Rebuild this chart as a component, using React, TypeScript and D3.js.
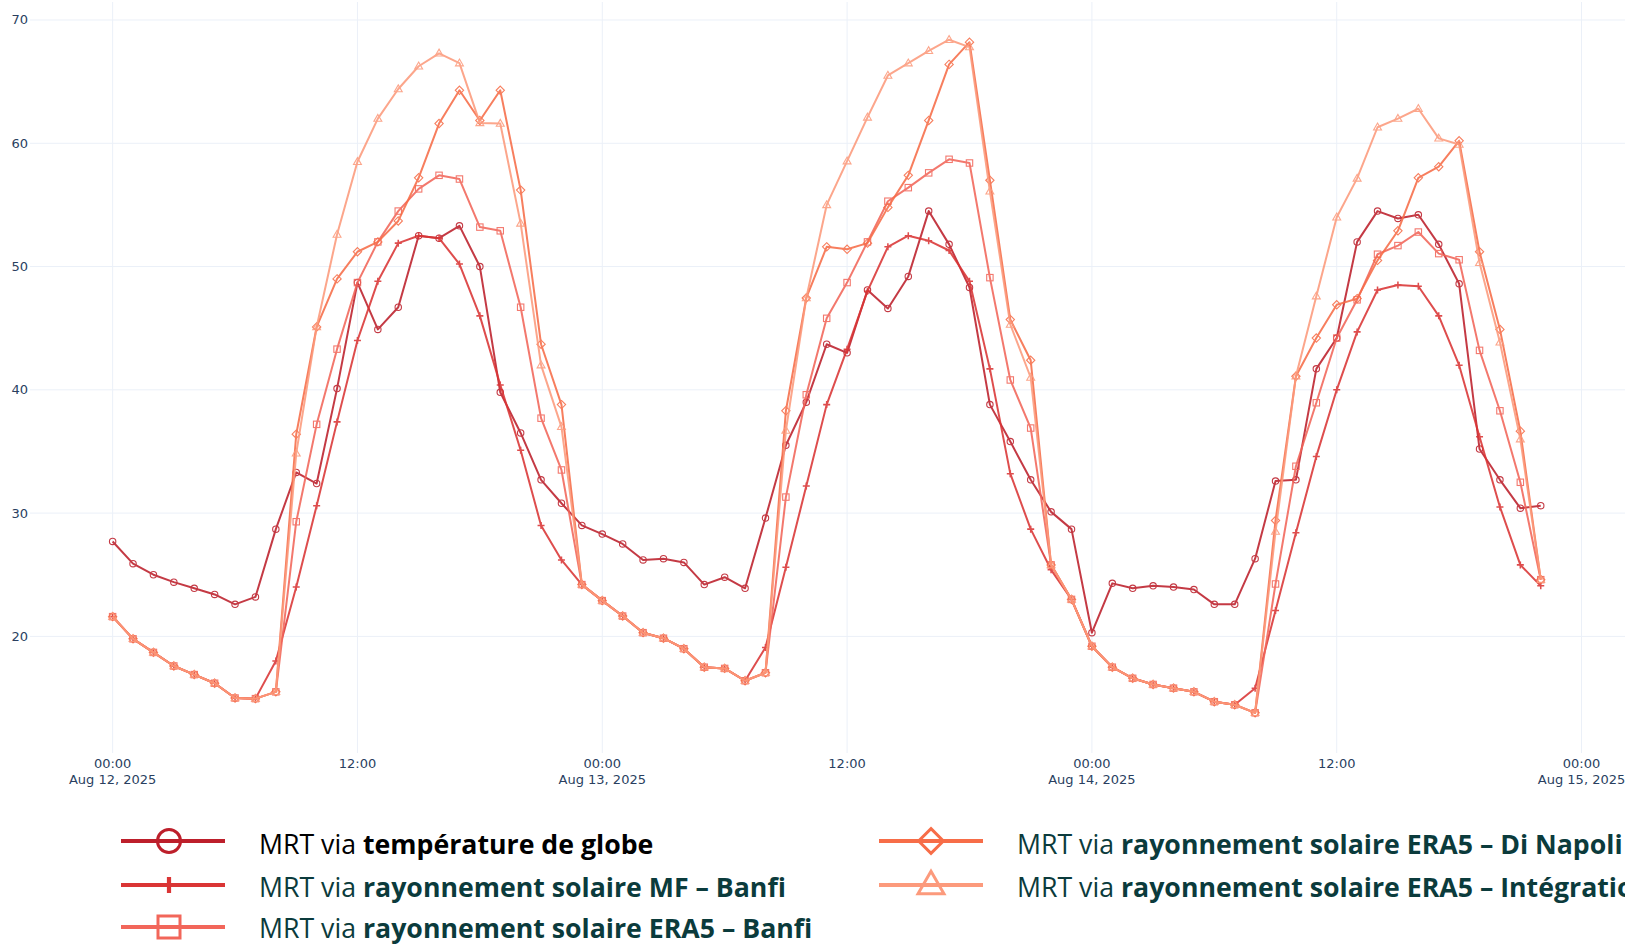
import React from "react";
import * as d3 from "d3";

// ---------- data (hourly, Aug 12 2025 00:00 → Aug 14 2025 22:00) ----------
const startUtc = Date.UTC(2025, 7, 12, 0);
const hourCount = 71;

const globeTemp = [
  27.7, 25.9, 25.0, 24.4, 23.9, 23.4, 22.6, 23.2, 28.7, 33.3, 32.4, 40.1,
  48.7, 44.9, 46.7, 52.5, 52.3, 53.3, 50.0, 39.8, 36.5, 32.7, 30.8, 29.0,
  28.3, 27.5, 26.2, 26.3, 26.0, 24.2, 24.8, 23.9, 29.6, 35.5, 39.0, 43.7,
  43.0, 48.1, 46.6, 49.2, 54.5, 51.8, 48.3, 38.8, 35.8, 32.7, 30.1, 28.7,
  20.3, 24.3, 23.9, 24.1, 24.0, 23.8, 22.6, 22.6, 26.3, 32.6, 32.7, 41.7,
  44.2, 52.0, 54.5, 53.9, 54.2, 51.8, 48.6, 35.2, 32.7, 30.4, 30.6,
];

const mfBanfi = [
  21.6, 19.8, 18.7, 17.6, 16.9, 16.2, 15.0, 14.95,
  18.0, 24.0, 30.6, 37.4, 44.0, 48.8, 51.9, 52.5, 52.3, 50.2, 46.0, 40.4, 35.1, 29.0, 26.2, 24.2,
  22.9, 21.65, 20.3, 19.85, 19.0, 17.5, 17.4, 16.4,
  19.1, 25.6, 32.2, 38.8, 43.3, 48.0, 51.6, 52.5, 52.1, 51.3, 48.8, 41.7, 33.2, 28.7, 25.4,
  23.0, 19.2, 17.5, 16.6, 16.1, 15.8, 15.5, 14.7, 14.45,
  15.8, 22.1, 28.4, 34.6, 40.0, 44.7, 48.1, 48.5, 48.4, 46.0, 42.0, 36.2, 30.5, 25.8, 24.1,
];

const era5Banfi = [
  21.6, 19.8, 18.7, 17.6, 16.9, 16.2, 15.0, 14.95,
  15.5, 29.3, 37.2, 43.3, 48.7, 52.0, 54.5, 56.3, 57.4, 57.1, 53.2, 52.9, 46.7, 37.7, 33.5, 24.2,
  22.9, 21.65, 20.3, 19.85, 19.0, 17.5, 17.4, 16.4,
  17.05, 31.3, 39.6, 45.8, 48.7, 52.0, 55.3, 56.4, 57.6, 58.7, 58.4, 49.1, 40.8, 36.9, 25.8,
  23.0, 19.2, 17.5, 16.6, 16.1, 15.8, 15.5, 14.7, 14.45,
  13.8, 24.25, 33.8, 38.95, 44.2, 47.3, 51.0, 51.7, 52.8, 51.05, 50.55, 43.2, 38.3, 32.5, 24.6,
];

const era5DiNapoli = [
  21.6, 19.8, 18.7, 17.6, 16.9, 16.2, 15.0, 14.95,
  15.5, 36.4, 45.1, 49.0, 51.2, 52.0, 53.7, 57.2, 61.6, 64.3, 61.85, 64.3, 56.2, 43.7, 38.8, 24.2,
  22.9, 21.65, 20.3, 19.85, 19.0, 17.5, 17.4, 16.4,
  17.05, 38.3, 47.45, 51.6, 51.4, 51.9, 54.8, 57.4, 61.85, 66.4, 68.2, 57.0, 45.7, 42.4, 25.8,
  23.0, 19.2, 17.5, 16.6, 16.1, 15.8, 15.5, 14.7, 14.45,
  13.8, 29.4, 41.1, 44.2, 46.9, 47.4, 50.5, 52.9, 57.2, 58.1, 60.2, 51.2, 44.9, 36.65, 24.6,
];

const era5Integration = [
  21.6, 19.8, 18.7, 17.6, 16.9, 16.2, 15.0, 14.95,
  15.5, 34.85, 45.1, 52.6, 58.5, 62.0, 64.4, 66.25, 67.3, 66.5, 61.65, 61.6, 53.5, 42.0, 37.0, 24.2,
  22.9, 21.65, 20.3, 19.85, 19.0, 17.5, 17.4, 16.4,
  17.05, 36.7, 47.45, 55.0, 58.55, 62.1, 65.5, 66.5, 67.5, 68.4, 67.8, 56.1, 45.3, 41.0, 25.8,
  23.0, 19.2, 17.5, 16.6, 16.1, 15.8, 15.5, 14.7, 14.45,
  13.8, 28.5, 41.1, 47.6, 54.0, 57.15, 61.3, 62.0, 62.8, 60.4, 59.9, 50.3, 43.85, 36.0, 24.6,
];

const seriesNames = [
  "température de globe",
  "rayonnement solaire MF – Banfi",
  "rayonnement solaire ERA5 – Banfi",
  "rayonnement solaire ERA5 – Di Napoli",
  "rayonnement solaire ERA5 – Intégration",
];
const seriesPrefix = "MRT via ";
const seriesValues = [globeTemp, mfBanfi, era5Banfi, era5DiNapoli, era5Integration];
const seriesSymbols = ["circle", "cross", "square", "diamond", "triangle"];
const seriesColors = ["#bd1f2b", "#da3535", "#f2665a", "#f76d48", "#fc9a7c"];
const legendTextColors = ["#000000", "#0b3b3c", "#0b3b3c", "#0b3b3c", "#0b3b3c"];

const yTickValues = [20, 30, 40, 50, 60, 70];
const xTickHours = [0, 12, 24, 36, 48, 60, 72];

// ---------- layout ----------
const W = 1625;
const H = 945;
const plot = { left: 30, right: 1625, top: 2, bottom: 753 };

const hourMs = 3600 * 1000;
const x = d3
  .scaleUtc()
  .domain([new Date(startUtc - 4.05 * hourMs), new Date(startUtc + 74.13 * hourMs)])
  .range([plot.left, plot.right]);
const y = d3.scaleLinear().domain([10.54, 71.46]).range([plot.bottom, plot.top]);

const fmtTime = d3.utcFormat("%H:%M");
const fmtDate = d3.utcFormat("%b %-d, %Y");

function Marker({ type, cx, cy, s, color, sw }: any) {
  if (type === "circle") {
    return <circle cx={cx} cy={cy} r={s} fill="none" stroke={color} strokeWidth={sw} />;
  }
  if (type === "square") {
    return <rect x={cx - s} y={cy - s} width={2 * s} height={2 * s} fill="none" stroke={color} strokeWidth={sw} />;
  }
  if (type === "diamond") {
    const d = s * 1.3;
    return <path d={`M${cx},${cy - d}L${cx + d},${cy}L${cx},${cy + d}L${cx - d},${cy}Z`} fill="none" stroke={color} strokeWidth={sw} />;
  }
  if (type === "triangle") {
    const r = s * 1.3;
    return (
      <path
        d={`M${cx},${cy - r}L${cx + r * 0.95},${cy + r * 0.65}L${cx - r * 0.95},${cy + r * 0.65}Z`}
        fill="none"
        stroke={color}
        strokeWidth={sw}
      />
    );
  }
  // cross (plus)
  return <path d={`M${cx - s},${cy}H${cx + s}M${cx},${cy - s}V${cy + s}`} fill="none" stroke={color} strokeWidth={sw * 1.4} />;
}

export default function App() {
  const hours = d3.range(hourCount);
  const line = d3
    .line<number>()
    .x((_, i) => x(new Date(startUtc + hours[i] * hourMs)))
    .y((v) => y(v));

  const legendPos = [
    { lx: 121, mx: 169, tx: 259, ly: 841, ty: 854 },
    { lx: 121, mx: 169, tx: 259, ly: 885, ty: 897 },
    { lx: 121, mx: 169, tx: 259, ly: 927, ty: 938 },
    { lx: 879, mx: 931, tx: 1017, ly: 841, ty: 854 },
    { lx: 879, mx: 931, tx: 1017, ly: 885, ty: 897 },
  ];
  const legendMarkerSize = [11.5, 8, 11, 9.5, 10.5];

  return (
    <svg
      width={W}
      height={H}
      style={{ position: "absolute", left: 0, top: 0, background: "#fff" }}
      xmlns="http://www.w3.org/2000/svg"
    >
      <rect x={0} y={0} width={W} height={H} fill="#fff" />
      {/* grid */}
      <g stroke="#ebf0f8" strokeWidth={1}>
        {yTickValues.map((v) => (
          <line key={"gy" + v} x1={plot.left} x2={plot.right} y1={y(v)} y2={y(v)} />
        ))}
        {xTickHours.map((h) => {
          const px = x(new Date(startUtc + h * hourMs));
          return <line key={"gx" + h} x1={px} x2={px} y1={plot.top} y2={plot.bottom} />;
        })}
      </g>
      {/* tick labels */}
      <g fontFamily="'DejaVu Sans', Verdana, sans-serif" fontSize={13} fill="#2a3f5f">
        {yTickValues.map((v) => (
          <text key={"ty" + v} x={28} y={y(v) + 4.5} textAnchor="end">
            {v}
          </text>
        ))}
        {xTickHours.map((h) => {
          const d = new Date(startUtc + h * hourMs);
          const px = x(d);
          return (
            <text key={"tx" + h} x={px} y={768} textAnchor="middle">
              <tspan x={px}>{fmtTime(d)}</tspan>
              {d.getUTCHours() === 0 && (
                <tspan x={px} y={784}>
                  {fmtDate(d)}
                </tspan>
              )}
            </text>
          );
        })}
      </g>
      {/* series */}
      {seriesValues.map((vals, si) => (
        <g key={"s" + si} opacity={0.88}>
          <path d={line(vals) || ""} fill="none" stroke={seriesColors[si]} strokeWidth={2} strokeLinejoin="round" />
          {vals.map((v, i) => (
            <Marker
              key={i}
              type={seriesSymbols[si]}
              cx={x(new Date(startUtc + hours[i] * hourMs))}
              cy={y(v)}
              s={si === 1 ? 3.5 : 3.2}
              color={seriesColors[si]}
              sw={1.1}
            />
          ))}
        </g>
      ))}
      {/* legend */}
      {seriesNames.map((name, si) => {
        const p = legendPos[si];
        return (
          <g key={"lg" + si}>
            <line x1={p.lx} x2={p.lx + 104} y1={p.ly} y2={p.ly} stroke={seriesColors[si]} strokeWidth={4} />
            <Marker type={seriesSymbols[si]} cx={p.mx} cy={p.ly} s={legendMarkerSize[si]} color={seriesColors[si]} sw={3} />
            <text x={p.tx} y={p.ty} fontFamily="'Open Sans', 'Noto Sans', sans-serif" fontSize={26.7} fill={legendTextColors[si]}>
              <tspan>{seriesPrefix}</tspan>
              <tspan fontWeight="bold">{name}</tspan>
            </text>
          </g>
        );
      })}
    </svg>
  );
}
